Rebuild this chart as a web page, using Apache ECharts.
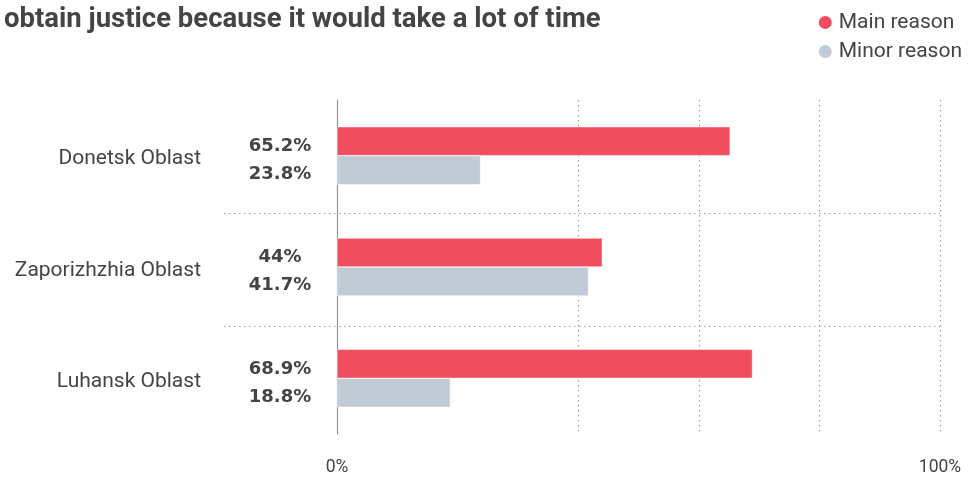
<!DOCTYPE html>
<html>
<head>
<meta charset="utf-8">
<script src="https://cdn.jsdelivr.net/npm/echarts@6/dist/echarts.min.js"></script>
<style>html,body{margin:0;padding:0;background:#fff;}#c{width:972px;height:477px;}</style>
</head>
<body>
<div id="c"></div>
<script>
var titleText = 'obtain justice because it would take a lot of time';
var categories = ['Donetsk Oblast', 'Zaporizhzhia Oblast', 'Luhansk Oblast'];
var seriesNames = ['Main reason', 'Minor reason'];
var mainReason = [65.2, 44, 68.9];
var minorReason = [23.8, 41.7, 18.8];
var tickLabels = {0: '0%', 100: '100%'};

var FONT = 'Roboto, "Noto Sans", sans-serif';
var NUM_FONT = '"DejaVu Sans", Roboto, sans-serif';
var TXT = '#444';
var GRID_C = '#8fa3b9';

var chart = echarts.init(document.getElementById('c'), null, {renderer: 'canvas'});
chart.setOption({
  animation: false,
  textStyle: {fontFamily: FONT},
  title: {
    text: titleText, left: -1, top: 1,
    textStyle: {fontFamily: FONT, fontWeight: 'bold', fontSize: 27.5, color: TXT}
  },
  legend: {
    orient: 'vertical', right: 5, top: 7, itemGap: 8,
    icon: 'circle', itemWidth: 15, itemHeight: 15,
    textStyle: {fontFamily: FONT, fontSize: 21, color: TXT, padding: [0, 0, 0, 1]},
    data: seriesNames
  },
  grid: [
    {left: 337, right: 32, top: 100, bottom: 37, containLabel: false},
    {left: 224, right: 32, top: 100, bottom: 37, containLabel: false}
  ],
  xAxis: [
    {
      type: 'value', gridIndex: 0, min: 0, max: 100, interval: 20,
      axisLine: {show: false}, axisTick: {show: false},
      axisLabel: {
        margin: 25, fontSize: 17.5, color: TXT, fontFamily: FONT,
        formatter: function (v) { return tickLabels[v] !== undefined ? tickLabels[v] : ''; }
      },
      splitLine: {show: true, lineStyle: {type: [1.5, 3.5], width: 1.2,
        color: ['rgba(0,0,0,0)', 'rgba(0,0,0,0)', GRID_C, GRID_C, GRID_C, GRID_C]}}
    },
    {
      type: 'value', gridIndex: 1, min: 0, max: 100, show: false
    }
  ],
  yAxis: [
    {
      type: 'category', gridIndex: 0, data: categories, inverse: true,
      axisLine: {show: true, lineStyle: {color: '#8497ab', width: 1.2}},
      axisTick: {show: false},
      axisLabel: {margin: 136, fontSize: 21, color: TXT, fontFamily: FONT,
        verticalAlign: 'top', lineHeight: 7},
      splitLine: {show: false}
    },
    {
      type: 'category', gridIndex: 1, data: categories, inverse: true,
      axisLine: {show: false}, axisTick: {show: false}, axisLabel: {show: false},
      splitLine: {show: true, lineStyle: {type: [1.5, 3.5], width: 1.2,
        color: ['rgba(0,0,0,0)', GRID_C, GRID_C, 'rgba(0,0,0,0)']}}
    }
  ],
  series: [
    {
      name: seriesNames[0], type: 'bar', xAxisIndex: 0, yAxisIndex: 0,
      data: mainReason, barWidth: 29, barGap: '0%',
      itemStyle: {color: '#f04e5e', borderColor: '#fff', borderWidth: 0.5},
      label: {show: true, position: 'left', distance: 57, align: 'center', offset: [0, 5],
        formatter: function (p) { return p.value + '%'; },
        fontFamily: NUM_FONT, fontWeight: 'bold', fontSize: 18, color: TXT}
    },
    {
      name: seriesNames[1], type: 'bar', xAxisIndex: 0, yAxisIndex: 0,
      data: minorReason, barWidth: 29, barGap: '0%',
      itemStyle: {color: '#c1cbd5', borderColor: '#fff', borderWidth: 0.5},
      label: {show: true, position: 'left', distance: 57, align: 'center', offset: [0, 4],
        formatter: function (p) { return p.value + '%'; },
        fontFamily: NUM_FONT, fontWeight: 'bold', fontSize: 18, color: TXT}
    }
  ]
});
</script>
</body>
</html>
